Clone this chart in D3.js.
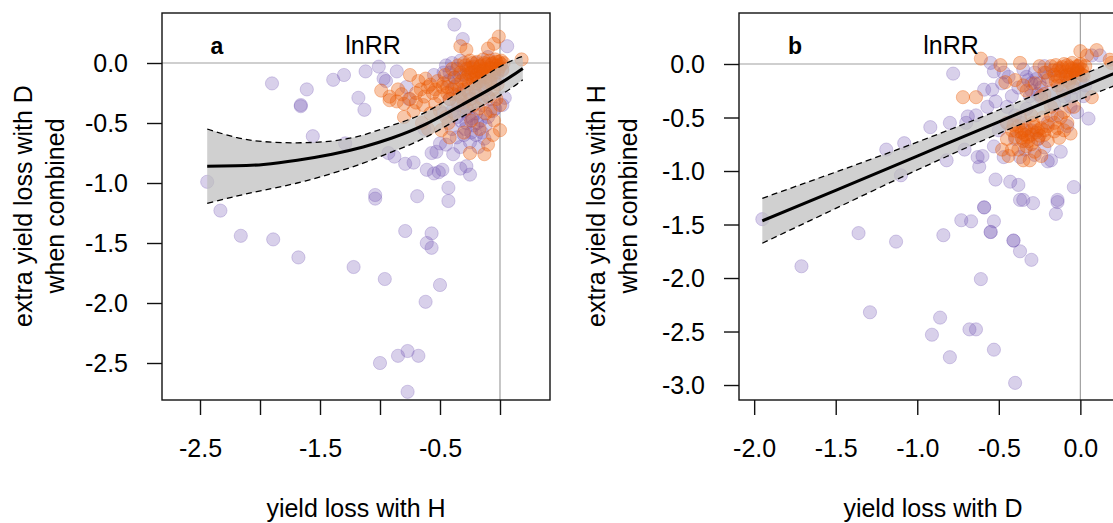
<!DOCTYPE html>
<html>
<head>
<meta charset="utf-8">
<script src="https://cdn.jsdelivr.net/npm/d3@7"></script>
<style>
  body { margin: 0; background: #fff; }
  svg { display: block; font-family: "Liberation Sans", Arial, sans-serif; }
</style>
</head>
<body>
<div id="chart"></div>
<script>
// panel a: extra loss with D vs yield loss with H
const purpleA = [
  [-2.44,-0.99],[-2.33,-1.23],[-2.16,-1.44],[-1.89,-1.47],[-1.68,-1.62],[-1.90,-0.17],[-1.61,-0.22],
  [-1.66,-0.35],[-1.66,-0.36],[-1.39,-0.14],[-1.30,-0.10],[-1.12,-0.07],[-1.01,-0.03],[-0.97,-0.13],
  [-0.95,-0.15],[-0.86,-0.07],[-1.18,-0.29],[-1.13,-0.39],[-1.56,-0.61],[-1.29,-0.67],[-1.22,-1.70],
  [-0.96,-1.80],[-0.79,-1.40],[-0.57,-1.42],[-0.61,-1.50],[-0.57,-1.54],[-0.50,-1.85],[-0.62,-1.99],
  [-1.00,-2.50],[-0.85,-2.44],[-0.77,-2.40],[-0.68,-2.44],[-0.77,-2.74],
  [-1.04,-1.10],[-1.04,-1.13],[-0.69,-1.11],[-0.43,-1.04],[-0.43,-1.15],
  [-0.93,-0.75],[-0.88,-0.78],[-0.79,-0.84],[-0.72,-0.83],
  [-0.61,-0.89],[-0.55,-0.92],[-0.51,-0.91],[-0.48,-0.89],[-0.25,-0.93],[-0.33,-0.88],[-0.28,-0.86],
  [-0.57,-0.75],[-0.53,-0.74],[-0.50,-0.67],[-0.45,-0.68],[-0.39,-0.76],[-0.33,-0.70],
  [-0.30,-0.60],[-0.25,-0.66],[-0.20,-0.60],[-0.13,-0.63],[-0.33,-0.48],[-0.28,-0.50],[-0.22,-0.52],
  [-0.38,0.32],[-0.31,0.20],[0.06,0.14],[0.04,-0.29],[0.02,-0.35],[-0.04,-0.38],
  [-0.78,-0.20],[-0.76,-0.30],[-0.55,-0.10],[-0.47,-0.08],[-0.43,-0.15],[-0.63,-0.55],
  [-0.45,-0.02],[-0.40,0.00],[-0.36,-0.05],[-0.33,0.02],[-0.30,-0.10],[-0.26,-0.04],[-0.22,-0.12],
  [-0.20,0.00],[-0.17,-0.18],[-0.38,-0.20],[-0.34,-0.26],[-0.28,-0.22],[-0.24,-0.30],[-0.19,-0.27],
  [-0.15,-0.35],[-0.12,-0.22],[-0.08,-0.30],[-0.30,-0.40],[-0.26,-0.44],[-0.20,-0.42],[-0.16,-0.48],
  [-0.10,-0.45],[-0.35,-0.35],[-0.42,-0.30],[-0.47,-0.42],[-0.40,-0.55],[-0.36,-0.62],[-0.18,-0.70],
  [-0.12,-0.52],[-0.06,-0.40],[-0.02,-0.14],[0.02,-0.05],[-0.10,0.05],[-0.14,-0.06],[-0.05,-0.10],
  [-0.42,-0.08],[-0.38,-0.12],[-0.34,-0.10],[-0.31,-0.36],[-0.27,-0.38],[-0.23,-0.46],[-0.19,-0.50],
  [-0.29,-0.55],[-0.24,-0.58],[-0.40,-0.40],[-0.36,-0.45],[-0.15,-0.58]
]

const orangeA = [
  [-0.33,0.14],[-0.28,0.11],[-0.01,0.22],[-0.05,0.16],[0.18,0.03],[-0.10,0.12],
  [-0.75,-0.10],[-0.68,-0.15],[-0.62,-0.13],[-0.58,-0.18],[-0.99,-0.23],[-0.92,-0.28],[-0.86,-0.32],
  [-0.82,-0.26],[-0.92,-0.31],[-0.80,-0.34],[-0.75,-0.30],[-0.70,-0.33],[-0.80,-0.45],[-0.72,-0.40],
  [-0.65,-0.50],[-0.60,-0.55],[-0.49,-0.56],[-0.43,-0.50],[-0.25,-0.75],[-0.13,-0.76],[0.00,-0.56],
  [-0.08,-0.40],[0.00,-0.35],[-0.05,-0.48],
  [-0.40,-0.05],[-0.38,-0.12],[-0.36,-0.18],[-0.35,-0.02],[-0.33,-0.08],[-0.32,-0.15],[-0.30,-0.22],
  [-0.30,0.00],[-0.28,-0.05],[-0.27,-0.11],[-0.26,-0.18],[-0.25,0.02],[-0.24,-0.08],[-0.23,-0.14],
  [-0.22,-0.03],[-0.21,-0.20],[-0.20,-0.10],[-0.19,0.01],[-0.18,-0.06],[-0.17,-0.15],[-0.16,-0.02],
  [-0.15,-0.09],[-0.14,0.03],[-0.13,-0.05],[-0.12,-0.12],[-0.11,-0.01],[-0.10,-0.07],[-0.09,0.02],
  [-0.08,-0.04],[-0.07,-0.10],[-0.06,0.00],[-0.05,-0.05],[-0.04,0.03],[-0.03,-0.02],[-0.02,-0.08],
  [-0.01,0.01],[0.00,-0.03],[0.01,0.02],[0.02,-0.06],[0.03,0.00],
  [-0.29,-0.02],[-0.26,-0.09],[-0.23,0.00],[-0.21,-0.07],[-0.19,-0.13],[-0.17,-0.03],[-0.15,-0.11],
  [-0.13,0.00],[-0.11,-0.06],[-0.09,-0.11],[-0.07,-0.01],[-0.05,-0.08],[-0.03,0.01],[-0.01,-0.05],
  [0.01,-0.01],[-0.12,-0.16],[-0.20,-0.17],[-0.28,-0.14],[-0.16,-0.07],[-0.08,-0.14],[-0.24,-0.04],
  [-0.52,-0.15],[-0.48,-0.20],[-0.46,-0.10],[-0.44,-0.25],[-0.42,-0.30],[-0.39,-0.26],[-0.36,-0.32],
  [-0.33,-0.28],[-0.30,-0.33],[-0.28,-0.38],[-0.25,-0.30],[-0.22,-0.35],[-0.20,-0.25],[-0.18,-0.38],
  [-0.15,-0.30],[-0.12,-0.42],[-0.10,-0.28],[-0.06,-0.22],[-0.03,-0.30],
  [-0.56,-0.25],[-0.54,-0.34],[-0.50,-0.40],[-0.58,-0.42],[-0.66,-0.22],[-0.63,-0.28],[-0.45,-0.45],
  [-0.38,-0.42],[-0.24,-0.48],[-0.17,-0.55],[-0.06,-0.60],[-0.10,-0.68],[-0.30,-0.58],[-0.42,-0.62],
  [-0.02,-0.18],[-0.08,-0.16],[-0.14,-0.20],[-0.26,-0.25],[-0.34,-0.22],
  [-0.60,-0.20],[-0.54,-0.22],[-0.50,-0.28],[-0.47,-0.17],[-0.44,-0.20],[-0.40,-0.22],[-0.70,-0.25],
  [-0.85,-0.22],[-0.64,-0.35]
]

const fitXA = [-2.44, -2.2, -1.97, -1.69, -1.4, -1.14, -0.9, -0.64, -0.31, 0, 0.19]
const fitA = [-0.86, -0.857, -0.845, -0.81, -0.76, -0.70, -0.625, -0.52, -0.345, -0.17, -0.045]
const upperA = [-0.55, -0.62, -0.655, -0.665, -0.65, -0.6, -0.52, -0.42, -0.225, -0.03, 0.055]
const lowerA = [-1.17, -1.11, -1.06, -1.0, -0.92, -0.835, -0.74, -0.63, -0.445, -0.27, -0.14]

// panel b: extra loss with H vs yield loss with D
const purpleB = [
  [-1.95,-1.45],[-1.71,-1.89],[-1.36,-1.58],[-1.13,-1.66],[-1.29,-2.32],[-0.84,-1.60],[-0.73,-1.46],
  [-0.67,-1.47],[-0.59,-1.34],[-0.59,-1.34],[-0.53,-1.47],[-0.55,-1.57],[-0.55,-1.57],[-0.41,-1.65],
  [-0.41,-1.65],[-0.37,-1.75],[-0.30,-1.83],[-0.15,-1.40],[-0.14,-1.29],[-0.29,-1.30],[-0.37,-1.27],
  [-0.61,-2.01],[-0.86,-2.37],[-0.91,-2.53],[-0.68,-2.48],[-0.64,-2.48],[-0.80,-2.74],[-0.53,-2.67],
  [-0.40,-2.98],
  [-0.78,-0.09],[-0.53,-0.07],[-0.55,0.01],[-0.47,-0.08],[-0.59,-0.24],[-0.54,-0.24],[-0.52,-0.35],
  [-0.57,-0.40],[-0.69,-0.49],[-0.64,-0.48],[-0.70,-0.55],[-0.92,-0.59],[-0.80,-0.55],[-1.08,-0.74],
  [-1.19,-0.80],[-1.10,-1.04],[-0.82,-0.90],[-0.71,-0.80],[-0.63,-0.87],[-0.60,-0.86],[-0.53,-0.77],
  [-0.62,-0.96],[-0.52,-1.08],[-0.43,-1.10],[-0.38,-1.13],[-0.35,-1.27],[-0.14,-1.27],[-0.04,-1.15],
  [0.05,-0.51],[-0.20,-0.91],[-0.47,-0.87],[-0.37,-0.87],[0.07,0.08],[0.12,0.08],
  [-0.35,-0.05],[-0.32,-0.15],[-0.30,-0.25],[-0.28,-0.08],[-0.25,-0.18],[-0.24,-0.32],[-0.22,-0.02],
  [-0.20,-0.12],[-0.18,-0.25],[-0.16,-0.38],[-0.14,-0.06],[-0.12,-0.20],[-0.10,-0.30],[-0.08,-0.10],
  [-0.06,-0.40],[-0.04,-0.22],[-0.02,-0.05],[0.00,-0.15],[0.02,-0.30],[-0.42,-0.30],[-0.45,-0.40],
  [-0.40,-0.48],[-0.36,-0.55],[-0.30,-0.62],[-0.26,-0.70],[-0.20,-0.55],[-0.14,-0.48],[-0.08,-0.58],
  [-0.33,-0.42],[-0.48,-0.18],[-0.44,-0.12],[-0.38,-0.22],[-0.45,-0.55],[-0.40,-0.70],[-0.34,-0.80],
  [-0.28,-0.85],[-0.50,-0.62],[-0.22,-0.78],[-0.18,-0.90],[-0.12,-0.82],[-0.06,-0.30],[0.03,-0.20],
  [-0.02,-0.45],
  [-0.33,-0.12],[-0.30,-0.18],[-0.27,-0.14],[-0.24,-0.22],[-0.21,-0.08],[-0.26,-0.28],[-0.31,-0.30]
]

const orangeB = [
  [-0.61,0.05],[-0.49,-0.01],[-0.37,0.01],[-0.72,-0.31],[-0.64,-0.31],[-0.46,-0.17],[-0.40,-0.15],
  [-0.33,-0.25],[0.04,0.08],[0.10,0.13],[0.19,0.01],[0.00,0.12],[0.18,0.04],[0.07,-0.31],[-0.10,-0.62],
  [-0.16,-0.63],[-0.13,-0.69],[-0.42,-0.80],[-0.35,-0.90],[-0.48,-0.80],[-0.28,-0.18],[-0.22,-0.28],
  [-0.35,-0.20],[-0.24,-0.30],[-0.18,-0.40],
  [-0.18,-0.02],[-0.16,-0.10],[-0.15,-0.16],[-0.13,-0.04],[-0.12,-0.12],[-0.10,0.00],[-0.09,-0.07],
  [-0.08,-0.15],[-0.07,-0.03],[-0.06,-0.10],[-0.05,0.01],[-0.04,-0.06],[-0.03,-0.13],[-0.02,-0.02],
  [-0.01,-0.08],[0.00,0.00],[0.01,-0.05],[0.02,-0.11],[0.03,-0.02],[-0.22,-0.08],[-0.20,-0.15],
  [-0.25,-0.02],[-0.14,-0.20],[-0.11,-0.25],[-0.05,-0.20],
  [-0.17,-0.06],[-0.14,-0.12],[-0.11,-0.03],[-0.09,-0.11],[-0.07,-0.17],[-0.05,-0.04],[-0.03,-0.09],
  [-0.01,-0.02],[0.01,-0.10],[-0.12,-0.07],[-0.06,-0.13],[-0.02,-0.06],[-0.15,-0.01],[-0.08,-0.01],
  [-0.45,-0.55],[-0.42,-0.62],[-0.40,-0.68],[-0.38,-0.58],[-0.36,-0.64],[-0.35,-0.72],[-0.33,-0.60],
  [-0.32,-0.68],[-0.30,-0.75],[-0.29,-0.55],[-0.27,-0.64],[-0.26,-0.70],[-0.24,-0.60],[-0.23,-0.50],
  [-0.22,-0.66],[-0.20,-0.58],[-0.18,-0.48],[-0.16,-0.55],[-0.14,-0.60],[-0.12,-0.50],[-0.10,-0.45],
  [-0.08,-0.55],[-0.28,-0.82],[-0.24,-0.86],[-0.38,-0.80],[-0.45,-0.70],[-0.44,-0.86],[-0.30,-0.48],
  [-0.34,-0.66],[-0.26,-0.62],[-0.20,-0.72],[-0.31,-0.90],[-0.37,-0.50],[-0.06,-0.65],[-0.04,-0.40],
  [-0.39,-0.63],[-0.36,-0.69],[-0.34,-0.62],[-0.32,-0.72],[-0.30,-0.66],[-0.28,-0.59],[-0.25,-0.67],
  [-0.41,-0.57],[-0.33,-0.77],[-0.22,-0.62]
]

const fitXB = [-1.95, -1.5, -1.0, -0.5, 0, 0.3]
const fitB = [-1.465, -1.18, -0.86, -0.54, -0.22, -0.03]
const upperB = [-1.255, -1.01, -0.73, -0.43, -0.11, 0.09]
const lowerB = [-1.675, -1.35, -0.99, -0.65, -0.33, -0.15]

const xTicksA = [-2.5, -2, -1.5, -1, -0.5, 0]
const xLabelsA = [-2.5, -1.5, -0.5]
const yTicksA = [0, -0.5, -1, -1.5, -2, -2.5]
const xTicksB = [-2, -1.5, -1, -0.5, 0]
const yTicksB = [0, -0.5, -1, -1.5, -2, -2.5, -3]

const width = 1113
const height = 523
const purple = "rgba(110, 82, 178, 0.27)"
const orange = "rgba(235, 92, 5, 0.34)"

const svg = d3.select("#chart").append("svg")
  .attr("width", width)
  .attr("height", height)

function drawPanel(p) {
  const x = d3.scaleLinear().domain(p.xDomain).range([p.left, p.left + 388])
  const y = d3.scaleLinear().domain(p.yDomain).range([400, 13])
  const g = svg.append("g")

  g.append("clipPath").attr("id", "clip" + p.id)
    .append("rect").attr("x", p.left).attr("y", 13).attr("width", 388).attr("height", 387)

  const plot = g.append("g").attr("clip-path", `url(#clip${p.id})`)

  // zero reference lines
  plot.append("line").attr("x1", p.left).attr("x2", p.left + 388)
    .attr("y1", y(0)).attr("y2", y(0)).attr("stroke", "#a0a0a0").attr("stroke-width", 1.2)
  plot.append("line").attr("x1", x(0)).attr("x2", x(0))
    .attr("y1", 13).attr("y2", 400).attr("stroke", "#a0a0a0").attr("stroke-width", 1.2)

  const dots = (data, col) => plot.append("g").selectAll("circle")
    .data(data).enter().append("circle")
    .attr("cx", d => x(d[0]))
    .attr("cy", d => y(d[1]))
    .attr("r", 6.6)
    .attr("fill", col)
    .attr("stroke", col)
    .attr("stroke-width", 1)

  dots(p.purple, purple)
  dots(p.orange, orange)

  const band = p.fitX.map((v, i) => ({ x: v, m: p.fit[i], lo: p.lower[i], hi: p.upper[i] }))
  const curve = d3.curveNatural

  plot.append("path").datum(band)
    .attr("d", d3.area().x(d => x(d.x)).y0(d => y(d.lo)).y1(d => y(d.hi)).curve(curve))
    .attr("fill", "rgba(190,190,190,0.72)")

  for (const k of ["hi", "lo"]) {
    plot.append("path").datum(band)
      .attr("d", d3.line().x(d => x(d.x)).y(d => y(d[k])).curve(curve))
      .attr("fill", "none").attr("stroke", "#000").attr("stroke-width", 1.3)
      .attr("stroke-dasharray", "6,4")
  }
  plot.append("path").datum(band)
    .attr("d", d3.line().x(d => x(d.x)).y(d => y(d.m)).curve(curve))
    .attr("fill", "none").attr("stroke", "#000").attr("stroke-width", 3)

  // box
  g.append("rect").attr("x", p.left).attr("y", 13).attr("width", 388).attr("height", 387)
    .attr("fill", "none").attr("stroke", "#111").attr("stroke-width", 1.4)

  const xAxis = d3.axisBottom(x).tickValues(p.xTicks).tickSize(15).tickPadding(10)
    .tickFormat(d => p.xLabels.includes(d) ? d3.format(".1f")(d).replace("−", "-") : "")
  const xg = g.append("g").attr("transform", "translate(0,400)").call(xAxis)
  xg.select(".domain").remove()
  xg.selectAll("line").attr("stroke", "#111").attr("stroke-width", 1.4)
  xg.selectAll("text").attr("font-size", 25).attr("fill", "#000")
    .attr("font-family", "Liberation Sans, Arial, sans-serif").attr("y", 57).attr("dy", 0)

  const yAxis = d3.axisLeft(y).tickValues(p.yTicks).tickSize(15).tickPadding(19)
    .tickFormat(d => d3.format(".1f")(d).replace("−", "-"))
  const yg = g.append("g").attr("transform", `translate(${p.left},0)`).call(yAxis)
  yg.select(".domain").remove()
  yg.selectAll("line").attr("stroke", "#111").attr("stroke-width", 1.4)
  yg.selectAll("text").attr("font-size", 25).attr("fill", "#000")
    .attr("font-family", "Liberation Sans, Arial, sans-serif").attr("dy", "0.35em")

  g.append("text").attr("x", p.letterX).attr("y", 54).attr("text-anchor", "middle")
    .attr("font-size", 23).attr("font-weight", "bold").text(p.letter)
  g.append("text").attr("x", p.lnX).attr("y", 54).attr("text-anchor", "middle")
    .attr("font-size", 25).text("lnRR")

  g.append("text").attr("x", p.left + 194).attr("y", 517).attr("text-anchor", "middle")
    .attr("font-size", 25).text(p.xTitle)

  p.yTitle.forEach((t, i) => {
    g.append("text")
      .attr("transform", `translate(${p.yTitleX + i * 32},206) rotate(-90)`)
      .attr("text-anchor", "middle").attr("dy", "0.33em")
      .attr("font-size", 25).text(t)
  })
}

drawPanel({
  id: "a", left: 162,
  xDomain: [-2.8167, 0.4167], yDomain: [-2.8083, 0.4167],
  xTicks: xTicksA, xLabels: xLabelsA, yTicks: yTicksA,
  purple: purpleA, orange: orangeA,
  fitX: fitXA, fit: fitA, upper: upperA, lower: lowerA,
  letter: "a", letterX: 217, lnX: 373,
  xTitle: "yield loss with H",
  yTitle: ["extra yield loss with D", "when combined"], yTitleX: 24
})

drawPanel({
  id: "b", left: 739,
  xDomain: [-2.093, 0.286], yDomain: [-3.14, 0.4766],
  xTicks: xTicksB, xLabels: xTicksB, yTicks: yTicksB,
  purple: purpleB, orange: orangeB,
  fitX: fitXB, fit: fitB, upper: upperB, lower: lowerB,
  letter: "b", letterX: 795, lnX: 951,
  xTitle: "yield loss with D",
  yTitle: ["extra yield loss with H", "when combined"], yTitleX: 597
})
</script>
</body>
</html>
